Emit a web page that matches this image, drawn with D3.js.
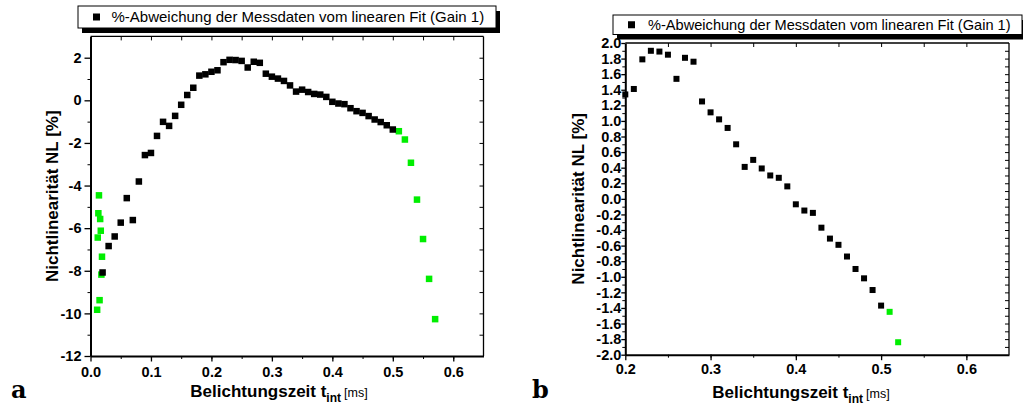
<!DOCTYPE html>
<html>
<head>
<meta charset="utf-8">
<script src="https://cdn.jsdelivr.net/npm/d3@7"></script>
<style>
  html, body { margin: 0; padding: 0; background: #fff; }
  svg { display: block; font-family: "Liberation Sans", Arial, Helvetica, sans-serif; }
</style>
</head>
<body>
<svg id="chart" width="1023" height="410"></svg>
<script>
// ---- Data ----
const legendText = "%-Abweichung der Messdaten vom linearen Fit (Gain 1)";
const yLabel = "Nichtlinearität NL [%]";
const panelLetters = ["a", "b"];

// black series: exposure time [ms] and non-linearity [%]
const tBlack = [0.02,0.03,0.04,0.05,0.06,0.07,0.08,0.09,0.10,0.11,0.12,0.13,0.14,0.15,0.16,0.17,0.18,0.19,
  0.20,0.21,0.22,0.23,0.24,0.25,0.26,0.27,0.28,0.29,0.30,0.31,0.32,0.33,0.34,0.35,0.36,0.37,0.38,0.39,
  0.40,0.41,0.42,0.43,0.44,0.45,0.46,0.47,0.48,0.49,0.50];
const nlBlack = [-8.08,-6.84,-6.39,-5.74,-4.59,-5.62,-3.81,-2.57,-2.47,-1.67,-1.01,-1.20,-0.73,-0.21,0.25,0.59,1.16,1.22,
  1.34,1.41,1.79,1.90,1.89,1.85,1.54,1.81,1.76,1.25,1.11,1.02,0.91,0.70,0.41,0.50,0.39,0.30,0.27,0.16,
  -0.07,-0.15,-0.18,-0.37,-0.51,-0.59,-0.74,-0.90,-1.02,-1.17,-1.37];

// green series (excluded points)
const tGreen = [0.014,0.013,0.016,0.017,0.012,0.019,0.018,0.015,0.011,0.51,0.52,0.53,0.54,0.55,0.56,0.57];
const nlGreen = [-4.46,-5.30,-5.57,-6.12,-6.44,-7.34,-8.18,-9.38,-9.83,-1.45,-1.84,-2.93,-4.66,-6.51,-8.38,-10.27];

// axes settings
const xDomainA = [0, 0.65], yDomainA = [-12, 3];
const xDomainB = [0.2, 0.65], yDomainB = [-2, 2];
const xTicksA = [0, 0.1, 0.2, 0.3, 0.4, 0.5, 0.6];
const yTicksA = [-12, -10, -8, -6, -4, -2, 0, 2];
const xTicksB = [0.2, 0.3, 0.4, 0.5, 0.6];
const yTicksB = d3.range(-20, 21, 2).map(v => v / 10);

const blackPts = tBlack.map((t, i) => ({t, v: nlBlack[i]}));
const greenPts = tGreen.map((t, i) => ({t, v: nlGreen[i]}));

const loc = d3.formatLocale({decimal: ".", thousands: ",", grouping: [3], currency: ["", ""], minus: "-"});

const svg = d3.select("#chart");

function panel(cfg) {
  const g = svg.append("g");
  const x = d3.scaleLinear(cfg.xDomain, [cfg.left, cfg.right]);
  const y = d3.scaleLinear(cfg.yDomain, [cfg.bottom, cfg.top]);

  const clipId = "clip" + cfg.id;
  svg.append("clipPath").attr("id", clipId).append("rect")
    .attr("x", cfg.left - 6).attr("y", cfg.top - 2)
    .attr("width", cfg.right - cfg.left + 6).attr("height", cfg.bottom - cfg.top + 4);

  // frame top & right
  g.append("line").attr("x1", cfg.left).attr("x2", cfg.right).attr("y1", cfg.top).attr("y2", cfg.top)
    .attr("stroke", "#000").attr("stroke-width", 1.3);
  g.append("line").attr("x1", cfg.right).attr("x2", cfg.right).attr("y1", cfg.top).attr("y2", cfg.bottom)
    .attr("stroke", "#000").attr("stroke-width", 1.3);

  // inward ticks top/right
  const topAx = g.append("g").attr("transform", `translate(0,${cfg.top})`)
    .call(d3.axisTop(x).tickValues(cfg.xMinorTicks).tickSize(-4).tickFormat(""));
  topAx.select(".domain").remove();
  const rightAx = g.append("g").attr("transform", `translate(${cfg.right},0)`)
    .call(d3.axisRight(y).tickValues(cfg.yRightTicks).tickSize(-4).tickFormat(""));
  rightAx.select(".domain").remove();

  // minor ticks bottom/left
  const bMinor = g.append("g").attr("transform", `translate(0,${cfg.bottom})`)
    .call(d3.axisBottom(x).tickValues(cfg.xMinorTicks).tickSize(3).tickFormat(""));
  bMinor.select(".domain").remove();
  const lMinor = g.append("g").attr("transform", `translate(${cfg.left},0)`)
    .call(d3.axisLeft(y).tickValues(cfg.yMinorTicks).tickSize(3).tickFormat(""));
  lMinor.select(".domain").remove();

  // major axes
  const xAx = g.append("g").attr("transform", `translate(0,${cfg.bottom})`)
    .call(d3.axisBottom(x).tickValues(cfg.xTicks).tickSize(5.5).tickPadding(cfg.xPad).tickSizeOuter(0)
      .tickFormat(loc.format(".1f")));
  const yAx = g.append("g").attr("transform", `translate(${cfg.left},0)`)
    .call(d3.axisLeft(y).tickValues(cfg.yTicks).tickSize(cfg.yTickSize).tickPadding(cfg.yPad).tickSizeOuter(0)
      .tickFormat(loc.format(cfg.yFmt)));
  [xAx, yAx].forEach(a => {
    a.select(".domain").attr("stroke-width", 2);
    a.selectAll(".tick line").attr("stroke-width", 1.3);
    a.selectAll("text").attr("font-size", cfg.tickFont).attr("fill", "#000")
      .attr("font-family", "'Liberation Sans', Arial, sans-serif").attr("font-weight", "bold");
  });
  g.selectAll(".tick line").attr("stroke", "#000");

  // points
  const s = cfg.marker;
  const inB = d => d.t >= cfg.xDomain[0] - 0.001 && d.t <= cfg.xDomain[1] && d.v >= cfg.yDomain[0] - 0.1 && d.v <= cfg.yDomain[1] + 0.1;
  const pg = g.append("g").attr("clip-path", `url(#${clipId})`);
  pg.selectAll("rect.g").data(greenPts.filter(inB)).join("rect").attr("class", "g")
    .attr("x", d => x(d.t) - s / 2).attr("y", d => y(d.v) - s / 2)
    .attr("width", s).attr("height", s).attr("fill", "#00ee00");
  pg.selectAll("rect.b").data(blackPts.filter(inB)).join("rect").attr("class", "b")
    .attr("x", d => x(d.t) - s / 2).attr("y", d => y(d.v) - s / 2)
    .attr("width", s).attr("height", s).attr("fill", "#000");

  // y label
  g.append("text")
    .attr("transform", `translate(${cfg.yLabelX},${(cfg.top + cfg.bottom) / 2}) rotate(-90)`)
    .attr("text-anchor", "middle").attr("font-size", 17).attr("font-weight", "bold")
    .text(yLabel);

  // x label
  const xl = g.append("text").attr("x", cfg.xLabelX).attr("y", cfg.xLabelY)
    .attr("text-anchor", "middle").attr("font-size", 17).attr("font-weight", "bold");
  xl.append("tspan").text("Belichtungszeit t");
  xl.append("tspan").attr("dy", 5).attr("font-size", 12).text("int");
  xl.append("tspan").attr("dy", -5).attr("dx", 3).attr("font-size", 12.5).attr("font-weight", "normal").text("[ms]");

  // panel letter
  g.append("text").attr("x", cfg.letterX).attr("y", 398)
    .attr("font-family", "'DejaVu Serif', 'Liberation Serif', serif").attr("font-weight", "bold")
    .attr("font-size", 24).text(cfg.letter);

  // legend
  const L = cfg.legend;
  g.append("rect").attr("x", L.x + 4).attr("y", L.y + 5).attr("width", L.w).attr("height", L.h).attr("fill", "#000");
  g.append("rect").attr("x", L.x).attr("y", L.y).attr("width", L.w).attr("height", L.h)
    .attr("fill", "#fff").attr("stroke", "#000").attr("stroke-width", 1);
  g.append("rect").attr("x", L.mx - 3.5).attr("y", L.y + L.h / 2 - 3.5).attr("width", 7).attr("height", 7).attr("fill", "#000");
  g.append("text").attr("x", L.tx).attr("y", L.y + L.h / 2 + 5).attr("font-size", L.fs).text(legendText);
}

panel({
  id: "A", letter: panelLetters[0], letterX: 11,
  left: 90.5, right: 483.5, top: 36.4, bottom: 356,
  xDomain: xDomainA, yDomain: yDomainA,
  xTicks: xTicksA, yTicks: yTicksA,
  xMinorTicks: d3.range(0, 0.651, 0.05).filter(v => v > 0.001 && v < 0.649),
  yMinorTicks: d3.range(-11, 3, 2),
  yRightTicks: d3.range(-11, 3, 1),
  yFmt: "d", tickFont: 14.5, xPad: 5, yPad: 3, yTickSize: 6,
  marker: 6.5,
  yLabelX: 58, xLabelX: 279, xLabelY: 397,
  legend: {x: 78, y: 6, w: 418, h: 22, mx: 96.5, tx: 111.5, fs: 15}
});

panel({
  id: "B", letter: panelLetters[1], letterX: 532,
  left: 625.3, right: 1009, top: 43, bottom: 354.7,
  xDomain: xDomainB, yDomain: yDomainB,
  xTicks: xTicksB, yTicks: yTicksB,
  xMinorTicks: d3.range(0.2, 0.651, 0.05).filter(v => v > 0.201 && v < 0.649),
  yMinorTicks: d3.range(-19, 20, 2).map(v => v / 10),
  yRightTicks: d3.range(-19, 20, 1).map(v => v / 10),
  yFmt: ".1f", tickFont: 14.5, xPad: 3.5, yPad: 0, yTickSize: 4,
  marker: 6,
  yLabelX: 584, xLabelX: 801, xLabelY: 398,
  legend: {x: 613, y: 15, w: 409, h: 19.5, mx: 631.5, tx: 648, fs: 14.6}
});
</script>
</body>
</html>
